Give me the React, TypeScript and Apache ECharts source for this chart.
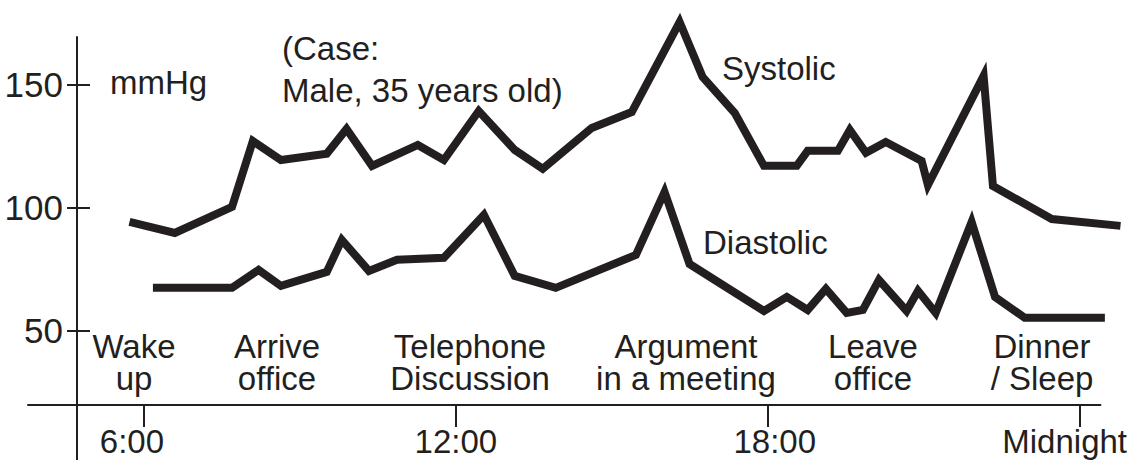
import React, { useEffect, useRef } from "react";
import * as echarts from "echarts";

// Time of day in hours, blood pressure in mmHg
const systolicHours = [5.72, 6.59, 7.69, 8.09, 8.63, 9.51, 9.89, 10.38, 11.26, 11.76, 12.43, 13.12, 13.66, 14.6, 15.37, 16.29, 16.73, 17.35, 17.91, 18.54, 18.75, 19.33, 19.56, 19.87, 20.25, 20.94, 21.06, 22.13, 22.31, 23.44, 24.76];
const systolicValues = [94.3, 89.8, 100.4, 127.2, 119.5, 122.0, 132.1, 117.1, 125.6, 119.5, 139.4, 123.6, 115.9, 132.5, 139.0, 175.6, 153.3, 138.6, 117.1, 117.1, 123.2, 123.2, 131.7, 122.4, 126.8, 119.1, 109.3, 153.7, 108.9, 95.5, 92.7];

const diastolicHours = [6.17, 7.69, 8.2, 8.63, 9.51, 9.8, 10.32, 10.86, 11.76, 12.53, 13.12, 13.91, 15.45, 16.0, 16.48, 17.91, 18.35, 18.75, 19.1, 19.5, 19.81, 20.12, 20.65, 20.87, 21.21, 21.9, 22.35, 22.92, 24.46];
const diastolicValues = [67.5, 67.5, 74.8, 68.3, 74.0, 87.0, 74.4, 78.9, 79.7, 97.2, 72.4, 67.5, 80.9, 106.5, 77.2, 58.1, 63.8, 58.5, 67.1, 57.3, 58.5, 70.7, 58.1, 66.3, 57.3, 94.3, 63.8, 55.3, 55.3];

const xTickValues = [6, 12, 18, 24];
const xTickLabels = ["6:00", "12:00", "18:00", "Midnight"];
const yTickValues = [50, 100, 150];

const eventTop = ["Wake", "Arrive", "Telephone", "Argument", "Leave", "Dinner"];
const eventBottom = ["up", "office", "Discussion", "in a meeting", "office", "/ Sleep"];

const INK = "#231f20";
const FONT = '"Liberation Sans", Arial, sans-serif';

export default function App() {
  const ref = useRef<HTMLDivElement>(null);
  useEffect(() => {
    if (!ref.current) return;
    const chart = echarts.init(ref.current, undefined, { renderer: "svg" });
    const sys = systolicHours.map((h, i) => [h, systolicValues[i]]);
    const dia = diastolicHours.map((h, i) => [h, diastolicValues[i]]);
    const eventX = [134, 277, 470, 686, 873, 1042];
    const txt = (text: string, x: number, y: number, align = "left") => ({
      type: "text",
      x,
      y,
      silent: true,
      style: {
        text,
        fill: INK,
        fontSize: 33,
        fontFamily: FONT,
        textAlign: align,
        textVerticalAlign: "middle",
        align,
        verticalAlign: "middle",
      },
    });
    const lineStyle = { color: INK, width: 8, join: "miter", miterLimit: 4, cap: "butt" };
    const option: any = {
      animation: false,
      backgroundColor: "#ffffff",
      grid: [
        { left: 28, right: 9, top: 37, bottom: 0, containLabel: false },
        { left: 28, right: 28, top: 37, bottom: 0, containLabel: false },
      ],
      xAxis: [
        { type: "value", gridIndex: 0, min: 3.77, max: 24.77, show: false },
        {
          type: "value",
          gridIndex: 1,
          min: 3.77,
          max: 24.4,
          position: "bottom",
          offset: -55,
          splitLine: { show: false },
          axisLine: { show: true, onZero: false, lineStyle: { color: INK, width: 2 } },
          axisTick: { show: true, customValues: xTickValues, length: 22, lineStyle: { color: INK, width: 2 } },
          axisLabel: {
            show: true,
            customValues: xTickValues,
            margin: 20,
            color: INK,
            fontSize: 33,
            fontFamily: FONT,
            formatter: (v: number) => {
              const i = xTickValues.indexOf(Math.round(v));
              return "{t" + i + "|" + xTickLabels[i] + "}";
            },
            rich: {
              t0: { fontSize: 33, fontFamily: FONT, color: INK, padding: [0, 24, 0, 0] },
              t1: { fontSize: 33, fontFamily: FONT, color: INK },
              t2: { fontSize: 33, fontFamily: FONT, color: INK, padding: [0, 0, 0, 14] },
              t3: { fontSize: 33, fontFamily: FONT, color: INK, padding: [0, 30, 0, 0] },
            },
          },
        },
      ],
      yAxis: [
        { type: "value", gridIndex: 0, min: -2.5, max: 169.5, show: false },
        {
          type: "value",
          gridIndex: 1,
          min: -2.5,
          max: 169.5,
          position: "left",
          offset: -49,
          splitLine: { show: false },
          axisLine: { show: true, onZero: false, lineStyle: { color: INK, width: 2 } },
          axisTick: { show: true, customValues: yTickValues, length: 10, lineStyle: { color: INK, width: 2 } },
          axisLabel: { show: true, customValues: yTickValues, margin: 14, color: INK, fontSize: 35, fontFamily: FONT },
        },
        {
          type: "value",
          gridIndex: 1,
          min: -2.5,
          max: 169.5,
          position: "left",
          offset: -49,
          splitLine: { show: false },
          axisLine: { show: false, onZero: false },
          axisTick: { show: true, inside: true, customValues: yTickValues, length: 13, lineStyle: { color: INK, width: 2 } },
          axisLabel: { show: false },
        },
      ],
      series: [
        { name: "Systolic", type: "line", xAxisIndex: 0, yAxisIndex: 0, data: sys, symbol: "none", clip: false, lineStyle },
        { name: "Diastolic", type: "line", xAxisIndex: 0, yAxisIndex: 0, data: dia, symbol: "none", clip: false, lineStyle },
      ],
      graphic: [
        txt("mmHg", 110, 82),
        txt("(Case:", 282, 48),
        txt("Male, 35 years old)", 282, 90),
        txt("Systolic", 722, 68),
        txt("Diastolic", 703, 242),
        ...eventTop.map((t, i) => txt(t, eventX[i], 346, "center")),
        ...eventBottom.map((t, i) => txt(t, eventX[i], 378, "center")),
      ],
    };
    chart.setOption(option);
    return () => chart.dispose();
  }, []);
  return <div ref={ref} style={{ position: "fixed", left: 0, top: 0, width: 1130, height: 460 }} />;
}
